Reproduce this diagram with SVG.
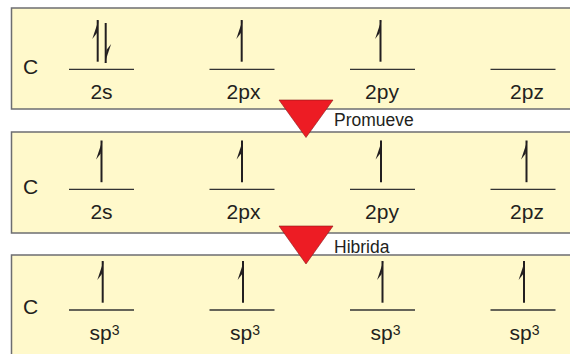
<svg xmlns="http://www.w3.org/2000/svg" width="570" height="354" viewBox="0 0 570 354">
<defs>
<style>
.box{fill:#fff9cb;stroke:#6d6e71;stroke-width:1.5}
.orb{stroke:#333;stroke-width:1.3;fill:none}
.ar{stroke:#231f20;stroke-width:2;fill:none}
.barb{fill:#231f20;stroke:none}
.lbl{font-family:"Liberation Sans",Arial,sans-serif;font-size:21px;fill:#231f20}
.sup{font-family:"Liberation Sans",Arial,sans-serif;font-size:14px;fill:#231f20}
.step{font-family:"Liberation Sans",Arial,sans-serif;font-size:17.5px;fill:#231f20}
.tri{fill:#ed1c24;stroke:#8a1a1a;stroke-width:0.6}
</style>
<g id="up"><line class="ar" x1="0" y1="0" x2="0" y2="41.7"/><polygon class="barb" points="0.9,0 -5.4,19 -0.8,13"/></g>
<g id="down"><line class="ar" x1="0" y1="0" x2="0" y2="40"/><polygon class="barb" points="-0.9,40 5.4,21 0.8,27"/></g>
</defs>
<rect width="570" height="354" fill="#ffffff"/>

<g id="box1">
<rect class="box" x="11.5" y="8" width="562" height="101"/>
<text class="lbl" x="23" y="74">C</text>
<line class="orb" x1="69" y1="69.3" x2="134" y2="69.3"/>
<line class="orb" x1="209.5" y1="69.3" x2="274.5" y2="69.3"/>
<line class="orb" x1="350" y1="69.3" x2="415" y2="69.3"/>
<line class="orb" x1="490.5" y1="69.3" x2="555.5" y2="69.3"/>
<use href="#up" x="97.7" y="20"/>
<use href="#down" x="105.7" y="23"/>
<use href="#up" x="241.7" y="20"/>
<use href="#up" x="380.5" y="20"/>
<text class="lbl" x="101.5" y="99" text-anchor="middle">2s</text>
<text class="lbl" x="243.5" y="99" text-anchor="middle">2px</text>
<text class="lbl" x="382" y="99" text-anchor="middle">2py</text>
<text class="lbl" x="527" y="99" text-anchor="middle">2pz</text>
</g>

<g id="box2">
<rect class="box" x="11.5" y="132" width="562" height="101"/>
<text class="lbl" x="23" y="194">C</text>
<line class="orb" x1="69" y1="189.3" x2="134" y2="189.3"/>
<line class="orb" x1="209.5" y1="189.3" x2="274.5" y2="189.3"/>
<line class="orb" x1="350" y1="189.3" x2="415" y2="189.3"/>
<line class="orb" x1="490.5" y1="189.3" x2="555.5" y2="189.3"/>
<use href="#up" x="101.5" y="140.5"/>
<use href="#up" x="242" y="140.5"/>
<use href="#up" x="381" y="140.5"/>
<use href="#up" x="526.5" y="140.5"/>
<text class="lbl" x="101.5" y="219.3" text-anchor="middle">2s</text>
<text class="lbl" x="243.5" y="219.3" text-anchor="middle">2px</text>
<text class="lbl" x="382" y="219.3" text-anchor="middle">2py</text>
<text class="lbl" x="527" y="219.3" text-anchor="middle">2pz</text>
</g>

<g id="box3">
<rect class="box" x="11.5" y="255" width="562" height="104"/>
<text class="lbl" x="23" y="314">C</text>
<line class="orb" x1="69" y1="310" x2="134" y2="310"/>
<line class="orb" x1="209.5" y1="310" x2="274.5" y2="310"/>
<line class="orb" x1="350" y1="310" x2="415" y2="310"/>
<line class="orb" x1="490.5" y1="310" x2="555.5" y2="310"/>
<use href="#up" x="102.7" y="261"/>
<use href="#up" x="243" y="261"/>
<use href="#up" x="382.5" y="261"/>
<use href="#up" x="524" y="261"/>
<text class="lbl" x="89.5" y="339.5">sp<tspan class="sup" dy="-5">3</tspan></text>
<text class="lbl" x="230" y="339.5">sp<tspan class="sup" dy="-5">3</tspan></text>
<text class="lbl" x="370.5" y="339.5">sp<tspan class="sup" dy="-5">3</tspan></text>
<text class="lbl" x="509.5" y="339.5">sp<tspan class="sup" dy="-5">3</tspan></text>
</g>

<g id="connectors">
<polygon class="tri" points="279,100 333,100 306,137.5"/>
<text class="step" x="334" y="125.7">Promueve</text>
<polygon class="tri" points="279,226 333,226 306,264"/>
<text class="step" x="334" y="252.5">Hibrida</text>
</g>
</svg>
